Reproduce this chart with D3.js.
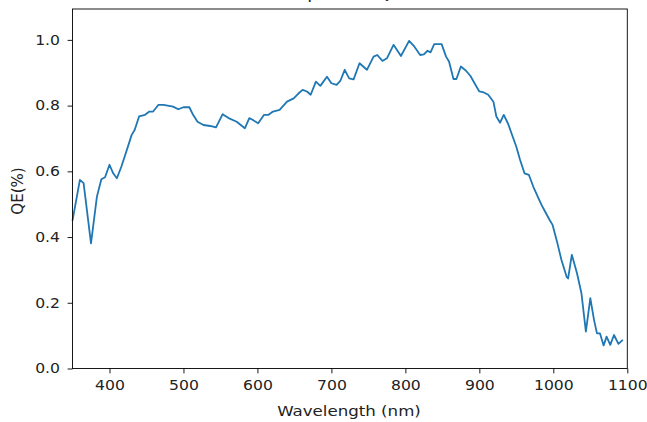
<!DOCTYPE html>
<html>
<head>
<meta charset="utf-8">
<script src="https://cdn.jsdelivr.net/npm/d3@7"></script>
<style>
  body { margin: 0; background: #fff; }
  svg { display: block; font-family: "DejaVu Sans", sans-serif; }
</style>
</head>
<body>
<div id="chart"></div>
<script>
// wavelength (nm) and QE
var wavelength = [350, 360, 365, 375, 383, 389, 394, 400, 405, 410, 416, 422, 430, 434, 440, 448, 454, 459, 466, 473,
  486, 493, 500, 508, 513, 519, 527, 536, 544, 553, 561, 572, 583, 589, 594, 601, 609, 615, 621, 630,
  640, 649, 655, 661, 667, 672, 679, 685, 694, 700, 707, 712, 718, 724, 730, 738, 748, 757, 762, 769,
  775, 784, 794, 805, 812, 820, 825, 830, 834, 839, 849, 855, 859, 865, 869, 875, 882, 888, 896, 900,
  906, 912, 919, 923, 928, 933, 939, 945, 950, 955, 961, 967, 973, 980, 984, 989, 995, 999, 1005, 1011,
  1018, 1020, 1025, 1032, 1038, 1044, 1050, 1055, 1059, 1063, 1068, 1072, 1077, 1082, 1088, 1094];
var qe = [0.45, 0.574, 0.564, 0.381, 0.523, 0.576, 0.582, 0.62, 0.594, 0.579, 0.614, 0.655, 0.711, 0.726, 0.767, 0.772, 0.782, 0.782, 0.802, 0.802,
  0.797, 0.789, 0.795, 0.795, 0.772, 0.751, 0.741, 0.738, 0.734, 0.774, 0.762, 0.751, 0.731, 0.762, 0.756, 0.746, 0.772, 0.772, 0.782, 0.787,
  0.812, 0.822, 0.836, 0.848, 0.843, 0.833, 0.873, 0.860, 0.888, 0.868, 0.863, 0.875, 0.909, 0.883, 0.880, 0.929, 0.909, 0.949, 0.954, 0.936,
  0.944, 0.985, 0.951, 0.997, 0.980, 0.954, 0.956, 0.967, 0.962, 0.987, 0.987, 0.949, 0.934, 0.881, 0.881, 0.919, 0.906, 0.890, 0.858, 0.843,
  0.840, 0.833, 0.812, 0.767, 0.748, 0.772, 0.744, 0.706, 0.675, 0.635, 0.594, 0.589, 0.553, 0.518, 0.498, 0.477, 0.452, 0.437, 0.386, 0.330,
  0.279, 0.274, 0.346, 0.290, 0.229, 0.112, 0.214, 0.148, 0.107, 0.107, 0.070, 0.097, 0.072, 0.102, 0.075, 0.087];

var xTicks = [400, 500, 600, 700, 800, 900, 1000, 1100];
var yTicks = [0.0, 0.2, 0.4, 0.6, 0.8, 1.0];

var titleText = "Spectral QE";
var xLabel = "Wavelength (nm)";
var yLabel = "QE(%)";

var W = 647, H = 422;
var stretch = 1.14; // the reference picture is a bit wider than tall
var margin = { top: 9, right: 20, bottom: 53.5, left: 72.5 };
var width = 627.3 - margin.left;
var height = H - margin.top - margin.bottom;

var data = wavelength.map(function (w, i) { return { w: w, v: qe[i] }; });

var svg = d3.select("#chart").append("svg")
  .attr("width", W)
  .attr("height", H);

var g = svg.append("g")
  .attr("transform", "translate(" + margin.left + "," + margin.top + ")");

var xScale = d3.scaleLinear().domain([350, 1100]).range([0, width]);
var yScale = d3.scaleLinear().domain([0, 1.094]).range([height, 0]);

// line
var line = d3.line()
  .x(function (d) { return xScale(d.w); })
  .y(function (d) { return yScale(d.v); });

g.append("path")
  .datum(data)
  .attr("fill", "none")
  .attr("stroke", "#1f77b4")
  .attr("stroke-width", 1.8)
  .attr("stroke-linejoin", "round")
  .attr("d", line);

// frame
g.append("rect")
  .attr("width", width)
  .attr("height", height)
  .attr("fill", "none")
  .attr("stroke", "#000")
  .attr("stroke-width", 0.9);

// axes
var xAxis = g.append("g")
  .attr("transform", "translate(0," + height + ")")
  .call(d3.axisBottom(xScale).tickValues(xTicks).tickSize(4.9).tickPadding(7).tickFormat(d3.format("d")));

var yAxis = g.append("g")
  .call(d3.axisLeft(yScale).tickValues(yTicks).tickSize(4.9).tickFormat(d3.format(".1f")));

[xAxis, yAxis].forEach(function (a) {
  a.select(".domain").remove();
  a.selectAll(".tick line").attr("stroke", "#000").attr("stroke-width", 0.9);
  a.selectAll(".tick text")
    .attr("fill", "#222")
    .attr("transform", "scale(" + stretch + ",1)")
    .style("font-family", "DejaVu Sans, sans-serif")
    .style("font-size", "13.7px");
});
yAxis.selectAll(".tick text").attr("x", -12.5 / stretch);

// labels
svg.append("text")
  .attr("transform", "translate(349,415.5) scale(" + stretch + ",1)")
  .attr("text-anchor", "middle")
  .attr("fill", "#222")
  .style("font-size", "14.6px")
  .text(xLabel);

svg.append("text")
  .attr("transform", "translate(22.5,191) rotate(-90)")
  .attr("text-anchor", "middle")
  .attr("fill", "#222")
  .style("font-size", "15px")
  .text(yLabel);

// title, mostly cut off above the window as in the reference
svg.append("text")
  .attr("transform", "translate(349,-1) scale(" + stretch + ",1)")
  .attr("text-anchor", "middle")
  .attr("fill", "#222")
  .style("font-size", "16px")
  .text(titleText);
</script>
</body>
</html>
